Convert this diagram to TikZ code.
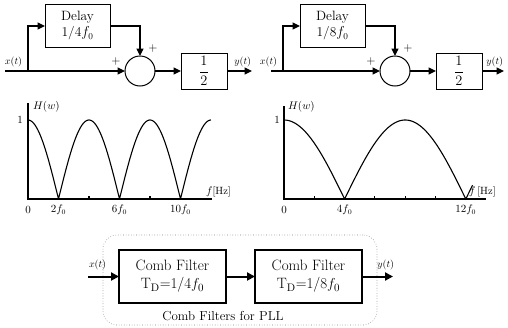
\documentclass[tikz,border=0pt]{standalone}
\usepackage{amsmath}
\usetikzlibrary{arrows.meta,calc,positioning}
\definecolor{CombInk}{gray}{0.0}
\definecolor{CombFrame}{gray}{0.5}
\tikzset{
    comb/diagram/.style={
        x=1pt, y=-1pt,
        draw=CombInk,
        text=CombInk,
        line width=1pt,
        every node/.style={inner sep=1pt, outer sep=0pt}
    },
    comb/wire/.style={draw=CombInk, line width=1.2pt},
    comb/signal/.style={
        draw=CombInk, line width=1.2pt,
        -{Triangle[length=7.5pt, width=7pt]}
    },
    comb/bus/.style={
        draw=CombInk, line width=2pt,
        -{Triangle[length=8pt, width=8pt]}
    },
    comb/delay/.style={
        draw=CombInk, line width=1pt, align=center,
        minimum width=65pt, minimum height=43pt,
        font=\fontsize{13.5}{16}\selectfont
    },
    comb/sum/.style={circle, draw=CombInk, line width=1pt, minimum size=30pt, inner sep=0pt},
    comb/gain/.style={
        draw=CombInk, line width=1pt,
        minimum width=46pt, minimum height=36pt,
        font=\fontsize{15}{15}\selectfont
    },
    comb/filter/.style={
        draw=CombInk, line width=2pt, align=center,
        minimum width=107pt, minimum height=53pt,
        font=\fontsize{15}{18}\selectfont
    },
    comb/frame/.style={
        draw=CombFrame, line width=0.6pt, dotted,
        rounded corners=14pt, minimum width=274pt, minimum height=90pt
    },
    comb/sign/.style={font=\fontsize{13}{13}\selectfont},
    comb/tag/.style={font=\fontsize{10}{10}\selectfont},
    comb/axis/.style={draw=CombInk, line width=1.1pt},
    comb/curve/.style={draw=CombInk, line width=1.1pt, line join=round},
    comb/label/.style={font=\fontsize{10.5}{10.5}\selectfont}
}

\begin{document}
\begin{tikzpicture}[comb/diagram]
    \useasboundingbox (0,0) rectangle (508,327);
    \foreach \dx/\inx/\ox/\k in {0/5/252/4, 255/16/249/8} {
        \begin{scope}[xshift=\dx]
            \coordinate (in\k) at (\inx,71);
            \coordinate (split\k) at (28,71);
            \node[comb/delay] (delay\k) at (77.5,26) {Delay\\1/\k$f_0$};
            \node[comb/sum] (sum\k) at (140,71) {};
            \node[comb/gain] (gain\k) at (204,71) {$\dfrac{1}{2}$};
            \coordinate (out\k) at (\ox,71);
            \draw[comb/signal] (in\k) -- (sum\k);
            \draw[comb/signal] (split\k) |- (delay\k);
            \draw[comb/signal] (delay\k) -| (sum\k);
            \draw[comb/signal] (sum\k) -- (gain\k);
            \draw[comb/signal] (gain\k) -- (out\k);
            \node[comb/tag] at (13.5,62) {$x(t)$};
            \node[comb/tag, above left=3pt and 0pt of out\k] {$y(t)$};
            \node[comb/sign] at (116,61) {$+$};
            \node[comb/sign] at (153,48) {$+$};
        \end{scope}
    }

    \coordinate (originA) at (28,199);
    \draw[comb/axis] (28,103) -- (originA) -- (212,199);
    \foreach \t in {4,8}
        \draw[comb/axis] ({28+15.25*\t},199) -- ++(0,-3.5);
    \draw[comb/curve] plot[domain=0:12, samples=241, variable=\f]
        ({28+15.25*\f}, {199-79*abs(cos(45*\f))});
    \foreach \t/\lab in {0/{0},2/{2f_0},6/{6f_0},10/{10f_0}}
        \node[comb/label] at ({28+15.25*\t},210) {$\lab$};
    \node[comb/label] at (20,120) {$1$};
    \node[comb/label, right] at (32,107) {$H(w)$};
    \node[comb/label, right] at (205,192) {$f$[Hz]};

    \coordinate (originB) at (284,199);
    \draw[comb/axis] (284,106) -- (originB) -- (486,199);
    \foreach \t in {2,6,8,10}
        \draw[comb/axis] ({284+15.15*\t},199) -- ++(0,-3.5);
    \draw[comb/curve] plot[domain=0:12.45, samples=250, variable=\f]
        ({284+15.15*\f}, {199-79*abs(cos(22.5*\f))});
    \foreach \t/\lab in {0/{0},4/{4f_0},12/{12f_0}}
        \node[comb/label] at ({284+15.15*\t},210) {$\lab$};
    \node[comb/label] at (277,120) {$1$};
    \node[comb/label, right] at (287,107) {$H(w)$};
    \node[comb/label, right] at (468,192) {$f$\,[Hz]};

    \node[comb/frame] (pll) at (240,280) {};
    \node[font=\fontsize{13}{13}\selectfont] at (223,316) {Comb Filters for PLL};
    \node[comb/filter] (filterA) at (172.5,276.5) {Comb Filter\\T$_{\mathrm{D}}$=1/4$f_0$};
    \node[comb/filter, right=29pt of filterA] (filterB) {Comb Filter\\T$_{\mathrm{D}}$=1/8$f_0$};
    \coordinate (pllin) at (88,276.5);
    \coordinate (pllout) at (393,276.5);
    \draw[comb/bus] (pllin) -- (filterA);
    \draw[comb/bus] (filterA) -- (filterB);
    \draw[comb/bus] (filterB) -- (pllout);
    \node[comb/tag, above right=6pt and 0pt of pllin] {$x(t)$};
    \node[comb/tag, above left=6pt and -2pt of pllout] {$y(t)$};
\end{tikzpicture}
\end{document}
